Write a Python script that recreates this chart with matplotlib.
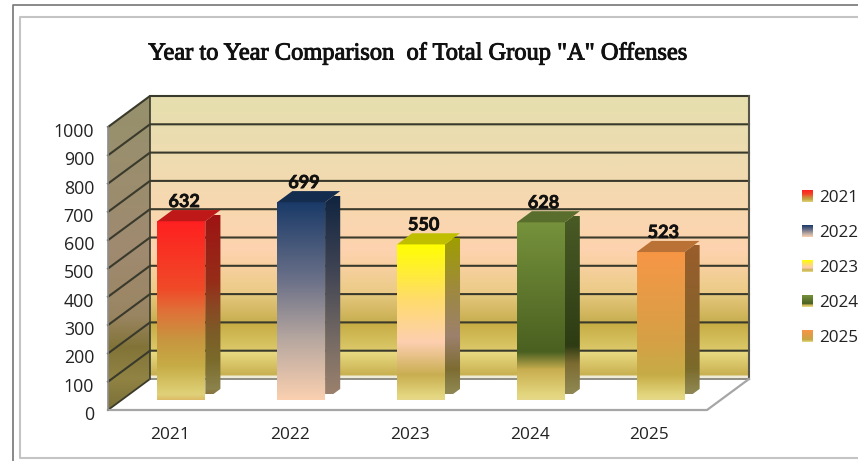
"""
Year to year comparison chart, drawn as a fake 3D column chart
"""
import numpy as np
import matplotlib
matplotlib.use('Agg')
import matplotlib.pyplot as plt
import matplotlib.patheffects as pe
from matplotlib.colors import LinearSegmentedColormap, to_rgb
from matplotlib.lines import Line2D
from matplotlib.patches import Polygon
from matplotlib.transforms import ScaledTranslation

# data
years = ['2021', '2022', '2023', '2024', '2025']
offenses = [632, 699, 550, 628, 523]
yticks = [0, 100, 200, 300, 400, 500, 600, 700, 800, 900, 1000]
title = 'Year to Year Comparison  of Total Group "A" Offenses'

# gradient stops of each column, bottom (0) to top (1)
bar_stops = [
    [(0, '#DDBB66'), (.03, '#E0D27A'), (.19, '#C6AC45'), (.34, '#C8953F'), (.5, '#E07038'), (.62, '#F04A28'), (1, '#FF2020')],
    [(0, '#FBD0B0'), (.30, '#B8A8A0'), (.61, '#6A7088'), (1, '#1A3A68')],
    [(0, '#E6D88A'), (.03, '#E3D67E'), (.16, '#C9AE50'), (.37, '#FDCFB0'), (.65, '#FFDC6A'), (1, '#FFFF00')],
    [(0, '#E6D88A'), (.03, '#E3D67E'), (.17, '#C9AE50'), (.27, '#4A6020'), (1, '#76923C')],
    [(0, '#E6D88A'), (.03, '#E3D67E'), (.17, '#C6AC45'), (.40, '#D6A045'), (1, '#F79646')],
]
# wall gradients, by value level
wall_stops = [(0, '#F0ECD8'), (10, '#F0ECD8'), (13, '#C8B050'), (100, '#EBDD85'), (100, '#DCC96A'), (200, '#C5AB42'),
              (200, '#C8AE50'), (300, '#E6C97F'), (300, '#EBCB85'), (450, '#FDD3AE'), (600, '#F8D8B0'),
              (800, '#EDDCB0'), (1000, '#E6DFAE')]
side_stops = [(0, '#7A6F38'), (100, '#918343'), (200, '#827438'), (300, '#9A8562'),
              (500, '#A08A70'), (1000, '#96916C')]

W, H = 858, 461
X0, X1, Y0, Y1 = 108, 707, 410, 127  # front plane in pixels
DX = 42 / ((X1 - X0) / 5)
DY = 31 / ((Y0 - Y1) / 1000)
BAR_W = 0.4
D_FRONT, D_BACK = 0.32, 0.68


def make_cmap(stops, factor=1.0):
    lo = stops[0][0]
    hi = stops[-1][0]
    pts = []
    for pos, col in stops:
        pts.append(((pos - lo) / (hi - lo), tuple(c * factor for c in to_rgb(col))))
    return LinearSegmentedColormap.from_list('grad', pts, N=512)


def gradient_poly(ax, verts, stops, ymin, ymax, factor=1.0):
    # vertical gradient clipped to a polygon
    xs = [v[0] for v in verts]
    grad = np.linspace(0, 1, 512).reshape(-1, 1)
    cmap = make_cmap(stops, factor=factor)
    im = ax.imshow(grad, origin='lower', aspect='auto', cmap=cmap, vmin=0, vmax=1, interpolation='bilinear',
                   extent=(min(xs), max(xs), ymin, ymax), zorder=ax.zcount)
    im.set_clip_box(ax.figure.bbox)
    im.set_clip_path(Polygon(verts, closed=True, transform=ax.transData))
    ax.zcount += 1
    return im


fig = plt.figure(figsize=(W / 100, H / 100), dpi=100, facecolor='white')
ax = fig.add_axes([X0 / W, 1 - Y0 / H, (X1 - X0) / W, (Y0 - Y1) / H])
ax.zcount = 1
ax.set_facecolor('none')
for s in ax.spines.values():
    s.set_visible(False)

# walls
gradient_poly(ax, [(0, 0), (DX, DY), (DX, 1000 + DY), (0, 1000)], side_stops, 0, 1000 + DY)
gradient_poly(ax, [(DX, DY), (5 + DX, DY), (5 + DX, 1000 + DY), (DX, 1000 + DY)], wall_stops, DY, 1000 + DY)

# floor
ax.add_patch(Polygon([(0, 0), (5, 0), (5 + DX, DY), (DX, DY)], closed=True, facecolor='white', edgecolor='none',
                     clip_on=False, zorder=ax.zcount))
ax.zcount += 1

# gridlines on both walls, the bottom one is only a pale edge
for v in yticks[1:]:
    ax.plot([0, DX, 5 + DX], [v, v + DY, v + DY], color='#3A3A2C', lw=1.5, clip_on=False, zorder=ax.zcount,
            solid_joinstyle='miter')
ax.plot([0, DX], [0, DY], color='#3A3A2C', lw=1.3, clip_on=False, zorder=ax.zcount)
ax.plot([DX, 5 + DX], [DY, DY], color='#8E8E84', lw=1.4, clip_on=False, zorder=ax.zcount)
ax.plot([DX, DX], [DY, 1000 + DY], color='#3A3A2C', lw=1.2, clip_on=False, zorder=ax.zcount)
ax.plot([5 + DX, 5 + DX], [DY, 1000 + DY], color='#55554A', lw=1.5, clip_on=False, zorder=ax.zcount)
ax.plot([0, 5, 5 + DX], [0, 0, DY], color='#A6A6A6', lw=1.6, clip_on=False, zorder=ax.zcount)
ax.plot([0, 0], [0, 1000], color='#8C8C8C', lw=1.2, clip_on=False, zorder=ax.zcount)
ax.zcount += 1

# columns
for i, val in enumerate(offenses):
    left = i + 0.5 - BAR_W / 2 + DX * D_FRONT
    right = left + BAR_W
    base = DY * D_FRONT
    top = base + val
    ddx = DX * (D_BACK - D_FRONT)
    ddy = DY * (D_BACK - D_FRONT)
    stops = bar_stops[i]
    front = [(left, base), (right, base), (right, top), (left, top)]
    side = [(right, base), (right + ddx, base + ddy), (right + ddx, top + ddy), (right, top)]
    roof = [(left, top), (right, top), (right + ddx, top + ddy), (left + ddx, top + ddy)]
    gradient_poly(ax, side, stops, base + ddy / 2, top + ddy / 2, factor=0.62)
    gradient_poly(ax, front, stops, base, top)
    top_col = tuple(c * 0.75 for c in to_rgb(stops[-1][1]))
    ax.add_patch(Polygon(roof, closed=True, facecolor=top_col, edgecolor='none', clip_on=False, zorder=ax.zcount))
    ax.zcount += 1
    ax.annotate(str(val), xy=(left + BAR_W / 2, top + ddy), xytext=(2, 0), textcoords='offset points',
                ha='center', va='bottom', fontsize=13, fontweight='bold', family='Lato', color='#111111',
                annotation_clip=False, zorder=200,
                path_effects=[pe.withStroke(linewidth=0.5, foreground='#111111')])

ax.set_xlim(0, 5)
ax.set_ylim(0, 1000)
ax.set_yticks(yticks)
ax.set_xticks([i + 0.52 for i in range(len(years))])
ax.set_xticklabels(years, fontsize=12.4, family='Open Sans', color='#222222')
ax.set_yticklabels([str(v) for v in yticks], fontsize=12.8, family='Open Sans', color='#222222')
ax.tick_params(axis='x', length=0, pad=12)
ax.tick_params(axis='y', length=0, pad=10)
for lab in ax.get_yticklabels():
    lab.set_transform(lab.get_transform() + ScaledTranslation(0, -3 / 100, fig.dpi_scale_trans))

fig.text(417 / W, 1 - 54 / H, title, ha='center', va='center', fontsize=17.6, family='Liberation Serif',
         color='#111111', path_effects=[pe.withStroke(linewidth=0.7, foreground='#111111')])

# legend
for i, yr in enumerate(years):
    ytop = 190 + i * 35
    sw = fig.add_axes([802 / W, 1 - (ytop + 12) / H, 11 / W, 12 / H])
    sw.imshow(np.linspace(0, 1, 64).reshape(-1, 1), origin='lower', aspect='auto', cmap=make_cmap(bar_stops[i]),
              vmin=0, vmax=1)
    sw.axis('off')
    fig.text(819 / W, 1 - (ytop + 8) / H, yr, ha='left', va='center', fontsize=12.3, family='Open Sans',
             color='#222222')

# picture frame
def frame(xs, ys, color, lw):
    fig.add_artist(Line2D([x / W for x in xs], [1 - y / H for y in ys], color=color, lw=lw,
                          transform=fig.transFigure))

frame([858, 12.5, 12.5], [5.5, 5.5, 461], '#808080', 1.3)
frame([858, 19.5, 19.5, 858], [17, 17, 458, 458], '#C4C4C4', 1.5)

fig.savefig('out.png', dpi=100)
